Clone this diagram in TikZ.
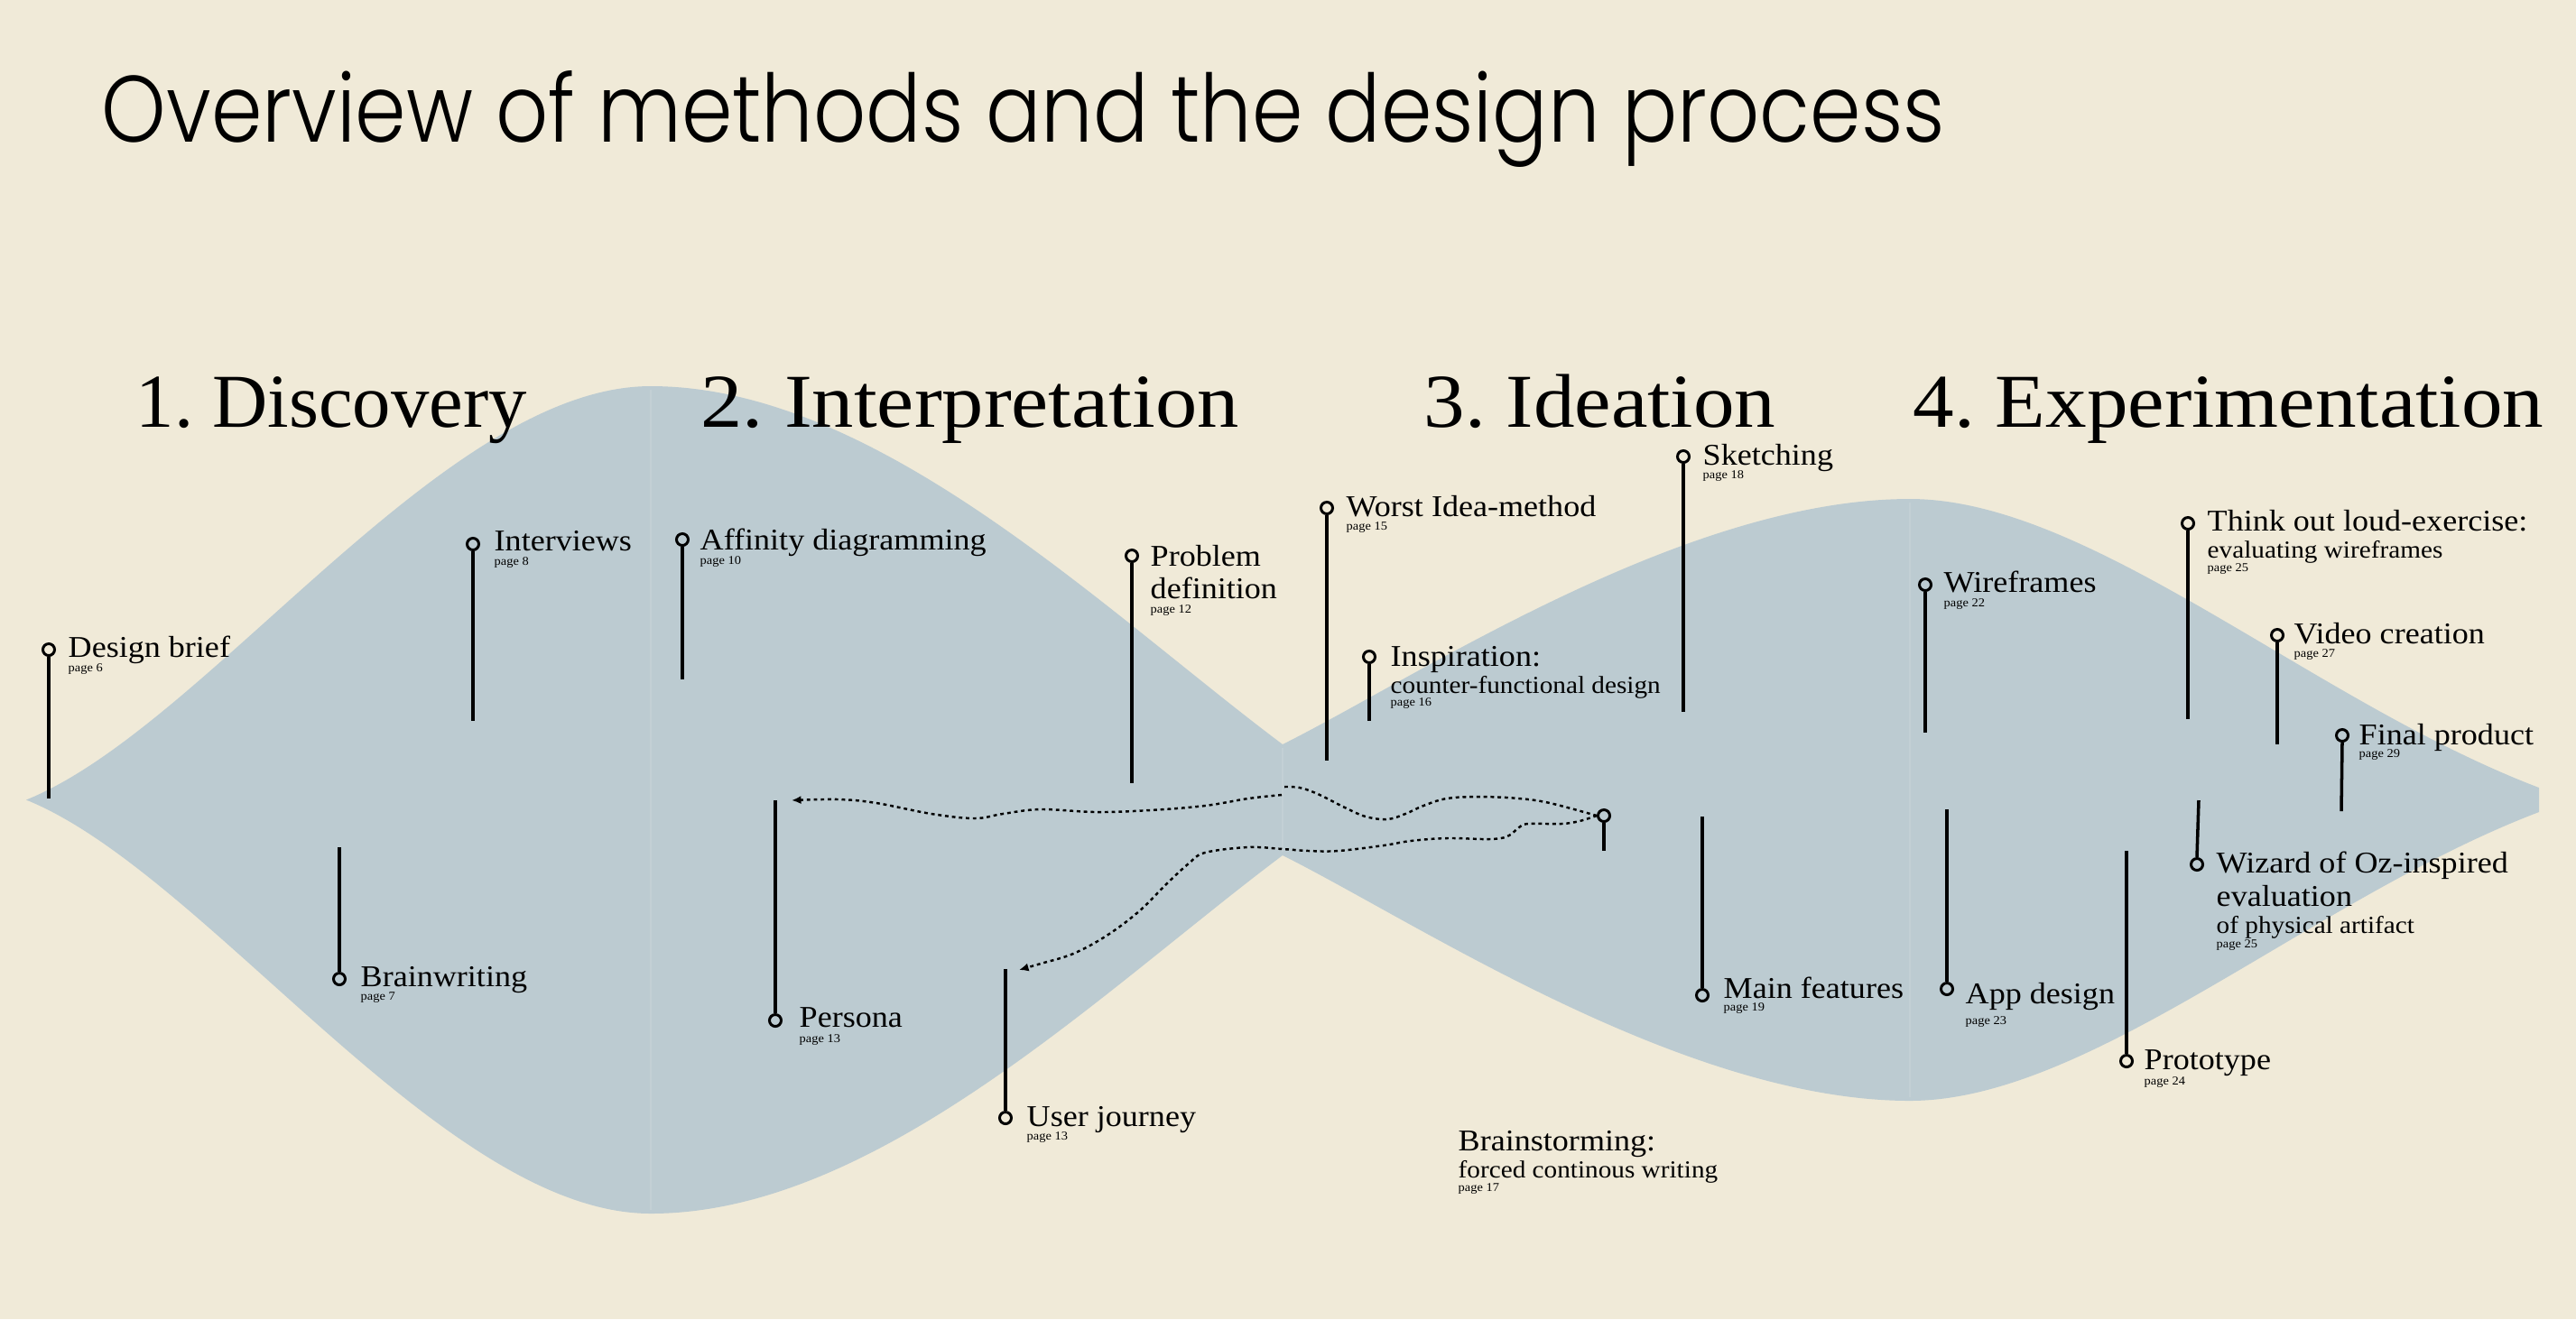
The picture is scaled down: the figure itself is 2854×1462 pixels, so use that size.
\documentclass[tikz,border=0pt]{standalone}
\usepackage{fontspec}
\usepackage{graphicx}
\setmainfont[FakeStretch=1.08]{Liberation Serif}
\newfontfamily\titlefont{Poppins Light}
\usetikzlibrary{arrows.meta}
\definecolor{bgc}{HTML}{F0EAD8}
\definecolor{shapec}{HTML}{BCCBD1}
\definecolor{seamc}{HTML}{C3D0D5}
\frenchspacing
\begin{document}
\begin{tikzpicture}[x=0.01cm,y=-0.01cm,
  hdg/.style={anchor=base west,inner sep=0,font=\fontsize{24}{28}\selectfont},
  lbl/.style={anchor=base west,inner sep=0,font=\fontsize{9.5}{11}\selectfont},
  sublbl/.style={anchor=base west,inner sep=0,font=\fontsize{7.7}{9}\selectfont},
  pg/.style={anchor=base west,inner sep=0,font=\fontsize{3.8}{4.5}\selectfont},
  mk/.style={circle,draw=black,line width=0.85pt,minimum size=0.13cm,inner sep=0},
  stem/.style={line width=1pt,draw=black},
  trail/.style={line width=0.7pt,dash pattern=on 1.1pt off 1.1pt,-{Latex[length=3pt,width=2.6pt]}},
]
\fill[bgc] (0,0) rectangle (2854,1462);
\useasboundingbox (0,0) rectangle (2854,1462);

% flowing shape
\fill[shapec] (29,886.5) .. controls (229,806) and (491,428) .. (721,428)
  .. controls (971,428) and (1221,675) .. (1421,825)
  .. controls (1571,750) and (1866,553) .. (2116,553)
  .. controls (2316,553) and (2563,778) .. (2813,873)
  -- (2813,900)
  .. controls (2563,995) and (2316,1220) .. (2116,1220)
  .. controls (1866,1220) and (1571,1023) .. (1421,948)
  .. controls (1221,1098) and (971,1345) .. (721,1345)
  .. controls (491,1345) and (229,967) .. (29,886.5) -- cycle;
\draw[seamc,line width=0.6pt] (721,432) -- (721,1341);
\draw[seamc,line width=0.6pt] (1421,829) -- (1421,944);
\draw[seamc,line width=0.6pt] (2116,557) -- (2116,1216);

% title
\node[anchor=base west,inner sep=0] (title) at (112,157)
  {\resizebox{20.41cm}{0.79cm}{\titlefont Overview of methods and the design process}};

% phase headings
\node[hdg] (h1) at (150,473) {\scalebox{0.93}[1]{1. Discovery}};
\node[hdg] (h2) at (776,473) {\scalebox{1.015}[1]{2. Interpretation}};
\node[hdg] (h3) at (1577,473) {3. Ideation};
\node[hdg] (h4) at (2119,473) {4. Experimentation};

% Design brief
\node[mk] (mdb) at (54,720) {};
\coordinate (edb) at (54,885);
\draw[stem] (mdb.south) -- (edb);
\node[lbl] (tdb) at (75,728) {Design brief};
\node[pg] (pdb) at (75,744) {page 6};

% Interviews
\node[mk] (miv) at (524,603) {};
\coordinate (eiv) at (524,799);
\draw[stem] (miv.south) -- (eiv);
\node[lbl] (tiv) at (547,610) {Interviews};
\node[pg] (piv) at (547,626) {page 8};

% Brainwriting
\node[mk] (mbw) at (376,1085) {};
\coordinate (ebw) at (376,939);
\draw[stem] (ebw) -- (mbw.north);
\node[lbl] (tbw) at (399,1093) {Brainwriting};
\node[pg] (pbw) at (399,1108) {page 7};

% Affinity diagramming
\node[mk] (maf) at (756,598) {};
\coordinate (eaf) at (756,753);
\draw[stem] (maf.south) -- (eaf);
\node[lbl] (taf) at (775,609) {Affinity diagramming};
\node[pg] (paf) at (775,625) {page 10};

% Persona
\node[mk] (mpe) at (859,1131) {};
\coordinate (epe) at (859,887);
\draw[stem] (epe) -- (mpe.north);
\node[lbl] (tpe) at (885,1138) {Persona};
\node[pg] (ppe) at (885,1155) {page 13};

% Problem definition
\node[mk] (mpd) at (1254,616) {};
\coordinate (epd) at (1254,868);
\draw[stem] (mpd.south) -- (epd);
\node[lbl] (tpd) at (1274,627) {Problem};
\node[lbl] (tpdb) at (1274,663) {definition};
\node[pg] (ppd) at (1274,679) {page 12};

% User journey
\node[mk] (muj) at (1114,1239) {};
\coordinate (euj) at (1114,1074);
\draw[stem] (euj) -- (muj.north);
\node[lbl] (tuj) at (1137,1248) {User journey};
\node[pg] (puj) at (1137,1263) {page 13};

% Worst Idea-method
\node[mk] (mwi) at (1470,563) {};
\coordinate (ewi) at (1470,843);
\draw[stem] (mwi.south) -- (ewi);
\node[lbl] (twi) at (1491,572) {Worst Idea-method};
\node[pg] (pwi) at (1491,587) {page 15};

% Inspiration
\node[mk] (min) at (1517,728) {};
\coordinate (ein) at (1517,799);
\draw[stem] (min.south) -- (ein);
\node[lbl] (tin) at (1540,738) {Inspiration:};
\node[sublbl] (sin) at (1540,768) {counter-functional design};
\node[pg] (pin) at (1540,782) {page 16};

% Brainstorming
\node[lbl] (tbs) at (1615,1275) {Brainstorming:};
\node[sublbl] (sbs) at (1615,1305) {forced continous writing};
\node[pg] (pbs) at (1615,1320) {page 17};

% Sketching
\node[mk] (msk) at (1865,506) {};
\coordinate (esk) at (1865,789);
\draw[stem] (msk.south) -- (esk);
\node[lbl] (tsk) at (1886,515) {Sketching};
\node[pg] (psk) at (1886,530) {page 18};

% Main features
\node[mk] (mmf) at (1886,1103) {};
\coordinate (emf) at (1886,905);
\draw[stem] (emf) -- (mmf.north);
\node[lbl] (tmf) at (1909,1106) {Main features};
\node[pg] (pmf) at (1909,1120) {page 19};

% origin of dotted trails
\node[mk] (mor) at (1777,904) {};
\coordinate (eor) at (1777,943);
\draw[stem] (mor.south) -- (eor);

% Wireframes
\node[mk] (mwf) at (2133,648) {};
\coordinate (ewf) at (2133,812);
\draw[stem] (mwf.south) -- (ewf);
\node[lbl] (twf) at (2153,656) {Wireframes};
\node[pg] (pwf) at (2153,672) {page 22};

% App design
\node[mk] (mad) at (2157,1096) {};
\coordinate (ead) at (2157,897);
\draw[stem] (ead) -- (mad.north);
\node[lbl] (tad) at (2177,1112) {App design};
\node[pg] (pad) at (2177,1135) {page 23};

% Think out loud
\node[mk] (mto) at (2424,580) {};
\coordinate (eto) at (2424,797);
\draw[stem] (mto.south) -- (eto);
\node[lbl] (tto) at (2445,588) {Think out loud-exercise:};
\node[sublbl] (sto) at (2445,618) {evaluating wireframes};
\node[pg] (pto) at (2445,633) {page 25};

% Prototype
\node[mk] (mpt) at (2356,1176) {};
\coordinate (ept) at (2356,943);
\draw[stem] (ept) -- (mpt.north);
\node[lbl] (tpt) at (2375,1185) {Prototype};
\node[pg] (ppt) at (2375,1202) {page 24};

% Video creation
\node[mk] (mvc) at (2523,704) {};
\coordinate (evc) at (2523,825);
\draw[stem] (mvc.south) -- (evc);
\node[lbl] (tvc) at (2541,713) {Video creation};
\node[pg] (pvc) at (2541,728) {page 27};

% Final product
\node[mk] (mfp) at (2595,815) {};
\coordinate (efp) at (2594,899);
\draw[stem] (mfp.south) -- (efp);
\node[lbl] (tfp) at (2613,825) {Final product};
\node[pg] (pfp) at (2613,839) {page 29};

% Wizard of Oz
\node[mk] (mwz) at (2434,958) {};
\coordinate (ewz) at (2436,887);
\draw[stem] (ewz) -- (mwz.north);
\node[lbl] (twz) at (2455,967) {Wizard of Oz-inspired};
\node[lbl] (twzb) at (2455,1004) {evaluation};
\node[sublbl] (swz) at (2455,1034) {of physical artifact};
\node[pg] (pwz) at (2455,1050) {page 25};

% dotted trails
\coordinate (arrA) at (877,887);
\coordinate (arrB) at (1129,1075);
\draw[trail] plot[smooth,tension=0.6] coordinates {(mor.west) (1717,890) (1683,885) (1640,883) (1603,885) (1577,893) (1557,902) (1537,908) (1513,905) (1490,895) (1460,880) (1440,873) (1423,872)}
  plot[smooth,tension=0.6] coordinates {(1420,881) (1383,885) (1335,893) (1274,898) (1214,900) (1153,897) (1111,902) (1080,907) (1032,902) (971,890) (929,886) (arrA)};
\draw[trail] plot[smooth,tension=0.6] coordinates {(mor.west) (1750,910) (1730,913) (1693,913) (1683,917) (1670,927) (1650,930) (1603,929) (1563,932) (1533,937) (1483,943) (1450,943) (1421,941) (1383,939) (1335,945) (1317,957) (1292,980) (1262,1010) (1226,1037) (1189,1057) (1153,1068) (arrB)};
\end{tikzpicture}
\end{document}
